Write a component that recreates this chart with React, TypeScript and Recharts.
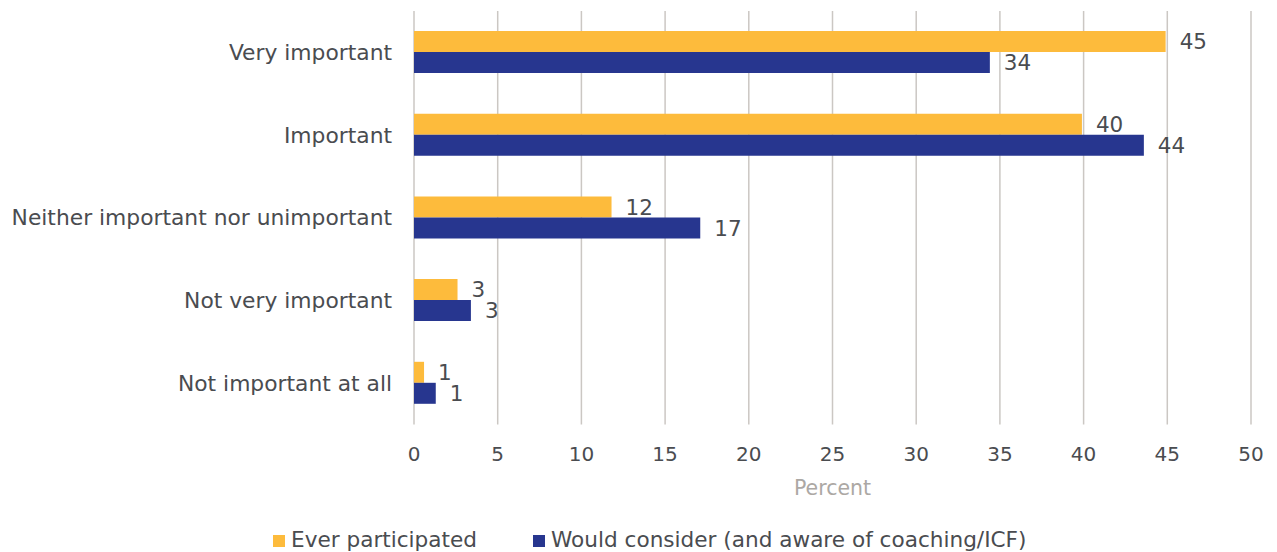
import { BarChart, Bar, XAxis, YAxis, CartesianGrid, Legend, LabelList } from 'recharts';

const categories = [
  'Very important',
  'Important',
  'Neither important nor unimportant',
  'Not very important',
  'Not important at all',
];
const everParticipated = [44.9, 39.9, 11.8, 2.6, 0.6];
const wouldConsider = [34.4, 43.6, 17.1, 3.4, 1.3];
const xTicks = [0, 5, 10, 15, 20, 25, 30, 35, 40, 45, 50];

const ORANGE = '#FDBB3C';
const NAVY = '#27368F';
const TEXT = '#4a4c50';
const FONT = '"DejaVu Sans", sans-serif';

const data = categories.map((name, i) => ({
  name,
  ever: everParticipated[i],
  would: wouldConsider[i],
}));

const legendItems = [
  { label: 'Ever participated', color: ORANGE },
  { label: 'Would consider (and aware of coaching/ICF)', color: NAVY },
];

function LegendContent() {
  return (
    <div style={{ display: 'flex', alignItems: 'center', height: 24, gap: 56 }}>
      {legendItems.map((item) => (
        <div key={item.label} style={{ display: 'flex', alignItems: 'center', gap: 6 }}>
          <div style={{ width: 12, height: 12, background: item.color, marginTop: 2 }} />
          <span style={{ fontSize: 21.6, color: TEXT, fontFamily: FONT, lineHeight: '24px' }}>
            {item.label}
          </span>
        </div>
      ))}
    </div>
  );
}

export default function App() {
  return (
    <div style={{ position: 'absolute', left: 0, top: 0, width: 1277, height: 552, background: '#fff' }}>
      <BarChart
        width={1277}
        height={552}
        data={data}
        layout="vertical"
        margin={{ top: 11, right: 26, left: 0, bottom: 0 }}
        barSize={21}
        barGap={0}
      >
        <CartesianGrid horizontal={false} stroke="#cbc7c3" strokeWidth={1.5} />
        <XAxis
          type="number"
          domain={[0, 50]}
          ticks={xTicks}
          interval={0}
          axisLine={false}
          tickLine={false}
          tickSize={0}
          tickMargin={22}
          height={103.5}
          tick={{ fill: TEXT, fontSize: 20, fontFamily: FONT }}
          label={{
            value: 'Percent',
            position: 'insideBottom',
            offset: 33,
            fill: '#aca8a4',
            fontSize: 20.5,
            fontFamily: FONT,
          }}
        />
        <YAxis
          type="category"
          dataKey="name"
          width={414}
          axisLine={false}
          tickLine={false}
          tickSize={0}
          tickMargin={22}
          interval={0}
          tick={{ fill: TEXT, fontSize: 21.8, fontFamily: FONT }}
        />
        <Legend
          verticalAlign="bottom"
          content={<LegendContent />}
          wrapperStyle={{ left: 273, bottom: 0, width: 'auto' }}
        />
        <Bar dataKey="ever" fill={ORANGE} isAnimationActive={false}>
          <LabelList
            dataKey="ever"
            position="right"
            offset={14}
            formatter={(v: number) => Math.round(v)}
            style={{ fill: TEXT, fontSize: 21.5, fontFamily: FONT }}
          />
        </Bar>
        <Bar dataKey="would" fill={NAVY} isAnimationActive={false}>
          <LabelList
            dataKey="would"
            position="right"
            offset={14}
            formatter={(v: number) => Math.round(v)}
            style={{ fill: TEXT, fontSize: 21.5, fontFamily: FONT }}
          />
        </Bar>
      </BarChart>
    </div>
  );
}
